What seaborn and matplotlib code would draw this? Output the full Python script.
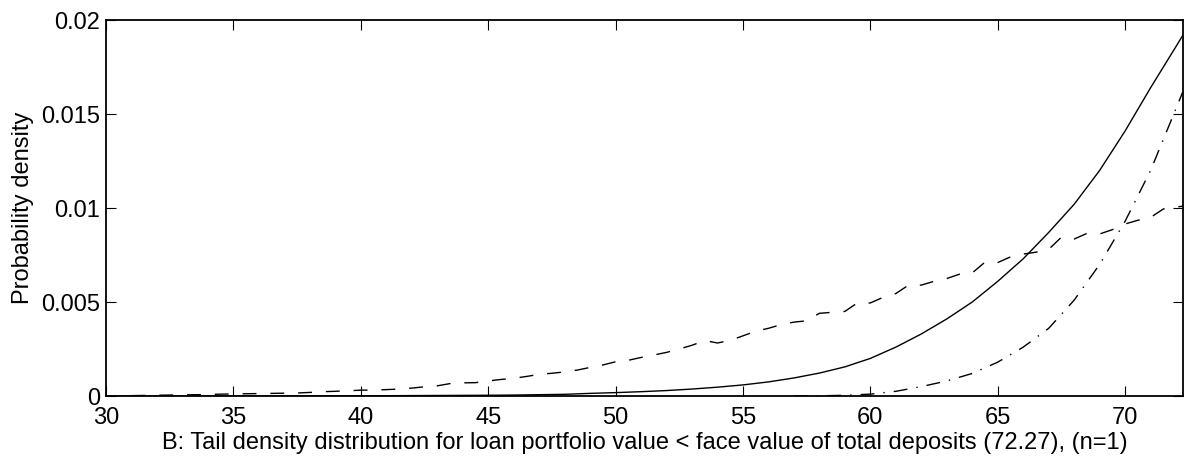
import numpy as np
import pandas as pd
import matplotlib
matplotlib.use("Agg")
import matplotlib.pyplot as plt
import seaborn as sns

# Smooth model tail density (solid)
model_x = [30, 35, 40, 45, 46, 47, 48, 49, 50, 51, 52, 53, 54, 55, 56, 57, 58,
           59, 60, 61, 62, 63, 64, 65, 66, 67, 68, 69, 70, 71, 72, 72.27]
model_y = [0.0, 0.0, 0.00001, 0.00004, 0.00005, 0.00007, 0.00009, 0.00014,
           0.00018, 0.00023, 0.00029, 0.00037, 0.00047, 0.00059, 0.00075,
           0.00096, 0.00122, 0.00155, 0.0020, 0.0026, 0.0033, 0.0041, 0.0050,
           0.0061, 0.0073, 0.0087, 0.0102, 0.0120, 0.0141, 0.0164, 0.0186,
           0.0192]

# Simulated tail density (dashed)
sim_x = [31.0, 31.5, 32.0, 32.5, 33.0, 33.5, 34.0, 34.5, 35.0, 35.5, 36.0,
         36.5, 37.0, 37.5, 38.0, 38.5, 39.0, 39.5, 40.0, 40.5, 41.0, 41.5,
         42.0, 42.5, 43.0, 43.5, 44.0, 44.5, 45.0, 45.5, 46.0, 46.5, 47.0,
         47.5, 48.0, 48.5, 49.0, 49.5, 50.0, 50.5, 51.0, 51.5, 52.0, 52.5,
         53.0, 53.5, 54.0, 54.5, 55.0, 55.5, 56.0, 56.5, 57.0, 57.5, 58.0,
         58.5, 59.0, 59.5, 60.0, 60.5, 61.0, 61.5, 62.0, 62.5, 63.0, 63.5,
         64.0, 64.5, 65.0, 65.5, 66.0, 66.5, 67.0, 67.5, 68.0, 68.5, 69.0,
         69.5, 70.0, 70.5, 71.0, 71.5, 72.0, 72.27]
sim_y = [0.00002, 0.00003, 0.00004, 0.00005, 0.00006, 0.00007, 0.00008,
         0.00010, 0.00011, 0.00012, 0.00013, 0.00014, 0.00015, 0.00016,
         0.00019, 0.00023, 0.00025, 0.00028, 0.00031, 0.00032, 0.00034,
         0.00037, 0.00042, 0.00049, 0.00054, 0.00066, 0.00070, 0.00071,
         0.00080, 0.00088, 0.00094, 0.00104, 0.00115, 0.00121, 0.00128,
         0.00138, 0.00152, 0.00165, 0.00182, 0.00190, 0.00205, 0.00218,
         0.00232, 0.00250, 0.00270, 0.00295, 0.00282, 0.00296, 0.00320,
         0.00345, 0.00360, 0.00380, 0.00393, 0.00400, 0.00440, 0.00445,
         0.00450, 0.00496, 0.00495, 0.00525, 0.00545, 0.00590, 0.00590,
         0.00610, 0.00625, 0.00648, 0.00655, 0.00712, 0.00710, 0.00740,
         0.00755, 0.00765, 0.00780, 0.00845, 0.00835, 0.00865, 0.00862,
         0.00885, 0.00915, 0.00935, 0.00950, 0.00995, 0.01005, 0.01010]

# Alternative model tail density (dash-dot)
alt_x = [57, 58, 59, 60, 61, 62, 63, 64, 65, 66, 67, 68, 69, 70, 71, 72, 72.27]
alt_y = [0.0, 0.00001, 0.00004, 0.0001, 0.00025, 0.0005, 0.0008, 0.0012,
         0.0018, 0.0026, 0.0036, 0.0051, 0.0070, 0.0093, 0.0120, 0.0153,
         0.0162]

x_ticks = [30, 35, 40, 45, 50, 55, 60, 65, 70]
y_ticks = [0, 0.005, 0.01, 0.015, 0.02]
y_tick_labels = ["0", "0.005", "0.01", "0.015", "0.02"]

sns.set_style("ticks")
plt.rcParams["font.family"] = ["Liberation Sans", "DejaVu Sans"]
plt.rcParams["font.size"] = 17
plt.rcParams["text.color"] = "black"
plt.rcParams["axes.labelcolor"] = "black"

fig = plt.figure(figsize=(11.87, 4.66), dpi=100)
ax = fig.add_axes([0.0893, 0.1502, 0.9073, 0.8068])

model = pd.DataFrame({"x": model_x, "y": model_y})
sim = pd.DataFrame({"x": sim_x, "y": sim_y})
alt = pd.DataFrame({"x": alt_x, "y": alt_y})

sns.lineplot(data=model, x="x", y="y", ax=ax, color="black", lw=1.0)
sns.lineplot(data=sim, x="x", y="y", ax=ax, color="black", lw=1.0,
             linestyle=(0, (10, 10)))
sns.lineplot(data=alt, x="x", y="y", ax=ax, color="black", lw=1.0,
             linestyle=(0, (10, 6.5, 1, 6.5)))

ax.set_xlim(30, 72.27)
ax.set_ylim(0, 0.02)
ax.set_xticks(x_ticks)
ax.set_xticklabels([str(t) for t in x_ticks])
ax.set_yticks(y_ticks)
ax.set_yticklabels(y_tick_labels)
ax.tick_params(direction="in", length=7, width=0.8, top=True, right=True,
               labelsize=17, colors="black", labelcolor="black")
ax.tick_params(axis="x", pad=8)
ax.tick_params(axis="y", pad=4)
for side in ax.spines.values():
    side.set_visible(True)
    side.set_linewidth(1.3)
    side.set_color("black")

ax.set_xlabel("B: Tail density distribution for loan portfolio value < face value "
              "of total deposits (72.27), (n=1)", fontsize=17, labelpad=2,
              color="black")
ax.set_ylabel("Probability density", fontsize=17, labelpad=5, color="black")

fig.savefig("out.png", dpi=100)
